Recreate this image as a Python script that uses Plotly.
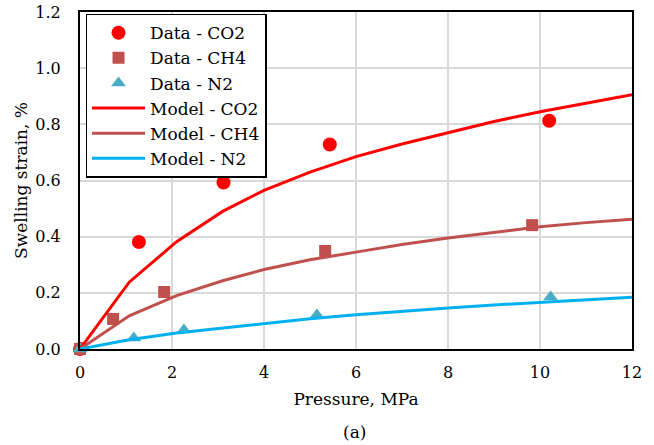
import plotly.graph_objects as go

# Measured swelling strain (%) vs. pressure (MPa)
co2_p = [0.0, 1.28, 3.12, 5.43, 10.2]
co2_s = [0.0, 0.381, 0.593, 0.728, 0.813]
ch4_p = [0.0, 0.72, 1.83, 5.33, 9.83]
ch4_s = [0.0, 0.107, 0.203, 0.349, 0.441]
n2_p = [0.0, 1.17, 2.26, 5.15, 10.23]
n2_s = [0.0, 0.039, 0.068, 0.121, 0.185]

# Model curves
model_p = [0.0, 1.07, 2.1, 3.1, 4.0, 5.0, 6.0, 7.0, 8.0, 9.0, 10.0, 11.0, 12.0]
model_co2 = [0.0, 0.238, 0.382, 0.49, 0.565, 0.63, 0.685, 0.73, 0.77, 0.81, 0.845, 0.875, 0.905]
model_ch4 = [0.0, 0.118, 0.19, 0.243, 0.283, 0.318, 0.345, 0.372, 0.395, 0.415, 0.435, 0.45, 0.462]
model_n2 = [0.0, 0.033, 0.057, 0.075, 0.092, 0.108, 0.122, 0.135, 0.146, 0.157, 0.166, 0.175, 0.184]

x_ticks = [0, 2, 4, 6, 8, 10, 12]
y_ticks = [0.0, 0.2, 0.4, 0.6, 0.8, 1.0, 1.2]

FONT = "DejaVu Serif"
RED = "#FF0000"
BROWN = "#C0504D"
TEAL = "#4BACC6"
BLUE = "#00B0F0"

fig = go.Figure()
fig.add_trace(go.Scatter(x=co2_p, y=co2_s, mode="markers", name="Data - CO2",
                         marker=dict(symbol="circle", size=14, color=RED), cliponaxis=False))
fig.add_trace(go.Scatter(x=ch4_p, y=ch4_s, mode="markers", name="Data - CH4",
                         marker=dict(symbol="square", size=12, color=BROWN), cliponaxis=False))
fig.add_trace(go.Scatter(x=n2_p, y=n2_s, mode="markers", name="Data - N2",
                         marker=dict(symbol="triangle-up", size=13, color=TEAL), cliponaxis=False))
fig.add_trace(go.Scatter(x=model_p, y=model_co2, mode="lines", name="Model - CO2",
                         line=dict(color=RED, width=3)))
fig.add_trace(go.Scatter(x=model_p, y=model_ch4, mode="lines", name="Model - CH4",
                         line=dict(color=BROWN, width=3)))
fig.add_trace(go.Scatter(x=model_p, y=model_n2, mode="lines", name="Model - N2",
                         line=dict(color=BLUE, width=3)))

axis_common = dict(showgrid=True, gridcolor="#D9D9D9", gridwidth=1.5, zeroline=False,
                   showline=True, linecolor="black", linewidth=2, mirror=True,
                   automargin=False,
                   ticks="", tickfont=dict(family=FONT, size=16, color="black"))

fig.update_xaxes(range=[0, 12], tickvals=x_ticks, ticklabelstandoff=8,
                 title=dict(text="Pressure, MPa", font=dict(family=FONT, size=17, color="black"),
                            standoff=12),
                 **axis_common)
fig.update_yaxes(range=[0, 1.2], tickvals=y_ticks, tickformat=".1f", ticklabelstandoff=14,
                 title=dict(text="Swelling strain, %", font=dict(family=FONT, size=17, color="black"),
                            standoff=3),
                 **axis_common)

fig.add_annotation(text="(a)", xref="paper", yref="paper", x=0.498, y=-0.246,
                   yanchor="middle", showarrow=False,
                   font=dict(family=FONT, size=17, color="black"))

fig.update_layout(
    width=654, height=445,
    margin=dict(l=80, r=22, t=12, b=96),
    paper_bgcolor="white", plot_bgcolor="white",
    font=dict(family=FONT, color="black"),
    showlegend=True,
    legend=dict(x=0.01, y=0.995, xanchor="left", yanchor="top",
                bgcolor="white", bordercolor="black", borderwidth=1.5,
                font=dict(family=FONT, size=17, color="black"),
                tracegroupgap=0, itemwidth=53),
)

fig.write_html("out.html")
